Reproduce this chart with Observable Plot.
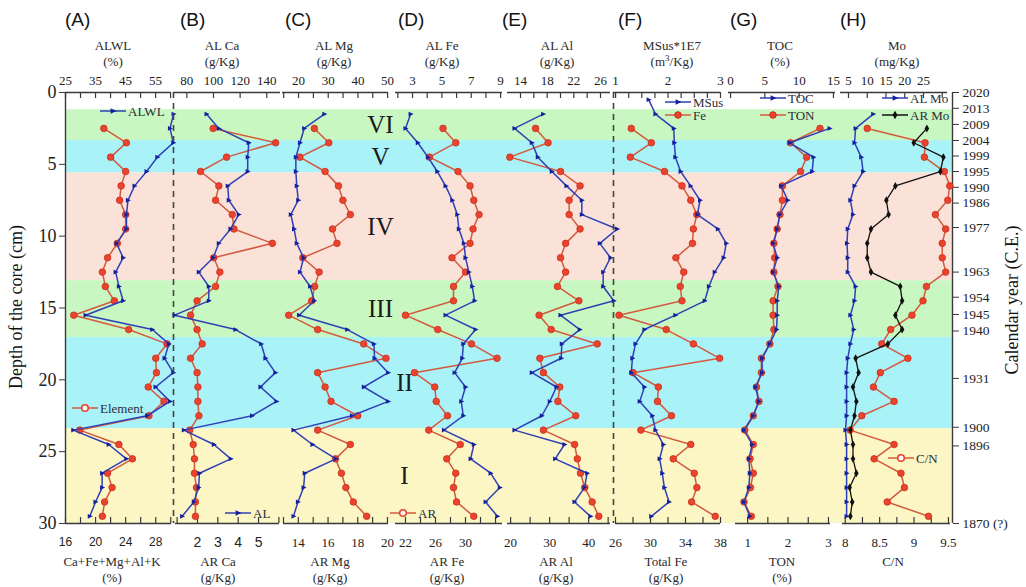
<!DOCTYPE html>
<html><head><meta charset="utf-8">
<script src="https://cdn.jsdelivr.net/npm/d3@7"></script>
<script src="https://cdn.jsdelivr.net/npm/@observablehq/plot@0.6"></script>
<style>
body{margin:0;background:#fff;}
#chart{position:relative;width:1026px;height:587px;overflow:hidden;background:#fff;}
#chart svg{position:absolute;left:0;top:0;}
.t{position:absolute;white-space:nowrap;transform:translate(-50%,-50%);color:#2a2a2a;line-height:1;}
</style></head><body><div id="chart"></div><script>
// ---------------- DATA ----------------
const depthFrom1 = [1.5,2.5,3.5,4.5,5.5,6.5,7.5,8.5,9.5,10.5,11.5,12.5,13.5,14.5,15.5,16.5,17.5,18.5,19.5,20.5,21.5,22.5,23.5,24.5,25.5,26.5,27.5,28.5,29.5];
const depthFrom2 = [2.5,3.5,4.5,5.5,6.5,7.5,8.5,9.5,10.5,11.5,12.5,13.5,14.5,15.5,16.5,17.5,18.5,19.5,20.5,21.5,22.5,23.5,24.5,25.5,26.5,27.5,28.5,29.5];
const depthFrom0 = [0.5,1.5,2.5,3.5,4.5,5.5,6.5,7.5,8.5,9.5,10.5,11.5,12.5,13.5,14.5,15.5,16.5,17.5,18.5,19.5,20.5,21.5,22.5,23.5,24.5,25.5,26.5,27.5,28.5,29.5];

const alwl    = [61.0,59.8,60.9,55.6,52.0,48.0,45.8,45.3,45.3,42.0,44.2,41.7,42.8,44.2,31.7,53.9,59.4,58.0,60.9,55.0,59.8,52.2,27.6,39.4,45.3,37.2,37.2,35.0,33.1];
const element = [21.1,24.1,22.0,24.0,23.4,23.2,24.0,24.0,22.9,21.6,20.9,21.3,22.5,17.1,24.4,29.5,28.0,28.1,27.0,29.1,27.1,17.9,23.1,24.9,21.6,22.2,21.2,20.9];
const alCa    = [94.8,104,126.5,125.7,125.7,110.7,111.5,119,112.8,104,99.8,89,96.5,96.5,70.8,116.5,135.8,139,146.5,135.3,147.3,129,77.8,100.3,113,89.5,88.8,85.3,76.5];
const arCa    = [2.77,5.84,3.43,2.15,3.05,2.89,3.71,3.79,5.68,2.8,3.1,2.89,1.98,1.66,1.98,2.23,1.66,1.98,2.02,2.02,2.07,1.62,1.79,1.85,1.85,1.95,1.9,1.9];
const alMg    = [28.7,21.9,20.5,19.1,19.1,19.4,19.9,17.4,18.5,19.4,21.7,20.5,23.9,25.3,20.2,36.4,45.4,45.6,50.2,42.0,50.2,38.0,18.3,24.7,32.6,22.1,21.7,19.8,18.3];
const arMg    = [15.08,16.05,14.1,15.8,16.7,17.0,17.5,16.3,16.6,14.3,15.4,15.1,14.9,13.35,15.3,18.4,19.9,15.3,15.8,16.2,18.0,15.3,17.5,16.5,16.9,17.2,17.7,18.6];
const alFe    = [2.87,2.52,3.36,4.05,4.69,5.25,5.71,6.05,6.16,6.5,6.61,6.84,7.07,7.23,5.25,7.3,6.46,6.39,5.87,6.61,6.32,6.46,5.14,7.18,6.96,8.32,8.95,7.98,8.78];
const arFe    = [27.0,28.7,25.2,29.0,30.6,31.1,31.8,31.0,30.6,28.2,30.0,28.4,28.4,22.0,26.3,30.8,34.2,23.2,25.9,26.1,27.6,25.1,29.3,27.5,28.7,28.4,28.8,31.1];
const alAl    = [17.4,13.1,15.7,16.6,18.7,20.9,23.2,23.2,28.5,25.9,27.5,26.4,26.4,28.0,20.0,22.9,20.2,20.1,15.7,19.4,18.4,17.2,13.1,20.6,19.2,24.0,23.6,22.1,24.5];
const arAl    = [26.4,29.6,19.8,32.8,37.8,35.0,35.0,37.8,34.1,32.8,34.1,32.0,37.5,27.3,30.4,42.2,27.5,28.4,32.6,32.1,36.7,28.4,36.4,37.1,37.9,39.0,40.9,42.6];
const msus    = [1.63,1.76,2.11,2.12,2.14,2.24,2.43,2.61,2.56,2.95,3.11,3.06,2.89,2.78,2.70,2.14,1.55,1.38,1.32,1.30,1.55,1.46,1.70,1.76,1.91,1.84,1.89,1.93,2.02,1.68];
const totalFe = [27.8,30.1,27.7,31.6,33.6,34.6,35.3,34.9,34.8,32.9,33.8,33.4,33.6,26.4,31.8,34.9,37.9,28.0,30.9,30.8,32.4,28.9,34.6,32.6,35.0,35.3,34.7,37.4];
const toc     = [14.45,8.63,12.1,11.9,7.38,8.34,7.18,6.8,6.2,6.8,6.2,7.03,6.8,6.8,6.7,5.72,4.6,4.6,3.64,4.12,3.3,1.94,3.16,2.67,2.81,2.67,1.94,2.81];
const ton     = [2.79,2.06,2.46,2.31,1.86,1.86,1.80,1.73,1.65,1.67,1.65,1.75,1.63,1.63,1.65,1.55,1.34,1.34,1.22,1.28,1.14,0.93,1.14,1.06,1.14,1.07,0.91,1.09];
const alMo    = [11.6,6.9,6.6,8.4,8.9,6.6,5.5,6.2,4.8,4.6,4.8,4.8,6.9,6.6,5.5,6.4,5.5,4.8,4.5,4.5,4.5,4.5,4.2,4.5,4.5,4.5,4.5,4.5,4.5];
const arMo    = [25.9,22.4,30.3,29.5,17.5,15.1,15.7,11.0,10.0,10.0,11.0,18.8,19.3,17.5,19.3,15.5,6.9,7.7,6.2,7.1,6.6,5.5,6.2,6.2,7.1,5.3,6.0,5.5];
const cn      = [8.32,9.16,9.15,9.44,9.52,9.49,9.31,9.46,9.41,9.41,9.46,9.18,9.13,8.97,8.66,8.53,8.91,8.51,8.41,8.71,8.24,8.07,8.71,8.42,8.81,8.86,8.61,9.21];

const zoneNames  = ["VI","V","IV","III","II","I"];
const zoneTop    = [1.2,3.35,5.6,13.1,17.05,23.4];
const zoneBottom = [3.35,5.6,13.1,17.05,23.4,30];

const depthTicks = [0,5,10,15,20,25,30];
const yearLabels = ["2020","2013","2009","2004","1999","1995","1990","1986","1977","1963","1954","1945","1940","1931","1900","1896","1870 (?)"];
const yearDepths = [0,1.1,2.22,3.34,4.42,5.5,6.6,7.7,9.4,12.5,14.25,15.45,16.6,19.9,23.3,24.6,30];

// ---------------- STYLE / LAYOUT ----------------
const W = 1026, H = 587, TOP = 92, BOTTOM = 523, LEFT = 65, RIGHT = 952;
const SERIF = "'Liberation Serif','Times New Roman',serif";
const SANS = "'Liberation Sans',Arial,sans-serif";
const AX = "#3a3a3a";
const BLUE_LINE = "#2f40b6", BLUE_DOT = "#14209c";
const RED_LINE = "#d35a3e", RED_DOT = "#ea432e", RED_EDGE = "#c9301c";
const BLACK = "#111";
const zoneFill = ["#c9f7c1","#a9f2f8","#fbe2d9","#c9f7c1","#a9f2f8","#fbf6c4"];

const triRight = {draw(ctx, size){ const r = Math.sqrt(size/Math.PI); ctx.moveTo(r*1.3,0); ctx.lineTo(-r*0.9,-r*1.05); ctx.lineTo(-r*0.9,r*1.05); ctx.closePath(); }};

const rows = (depths, values) => values.map((v,i) => ({d: depths[i], v}));
const blueSeries = (depths, values) => [
  Plot.line(rows(depths, values), {x:"v", y:"d", stroke: BLUE_LINE, strokeWidth: 1.5}),
  Plot.dot(rows(depths, values), {x:"v", y:"d", symbol: triRight, r: 2.3, fill: BLUE_DOT, stroke: "none"})
];
const redSeries = (depths, values) => [
  Plot.line(rows(depths, values), {x:"v", y:"d", stroke: RED_LINE, strokeWidth: 1.5}),
  Plot.dot(rows(depths, values), {x:"v", y:"d", r: 3.3, fill: RED_DOT, stroke: RED_EDGE, strokeWidth: 0.8})
];
const blackSeries = (depths, values) => [
  Plot.line(rows(depths, values), {x:"v", y:"d", stroke: BLACK, strokeWidth: 1.3}),
  Plot.dot(rows(depths, values), {x:"v", y:"d", symbol: "diamond", r: 2.4, fill: BLACK, stroke: "none"})
];

const panels = [
  {letterX:65, topX:113, botX:112, topTitle:["ALWL","(%)"], botTitle:["Ca+Fe+Mg+Al+K","(%)"],
   top:{x0:65,x1:171,domain:[25,60.3],ticks:[25,30,35,40,45,50,55,60],labels:[25,35,45,55]},
   bot:{x0:65,x1:171,domain:[16,30.1],ticks:[16,18,20,22,24,26,28,30],labels:[16,20,24,28],font:SANS,size:12},
   topMarks: blueSeries(depthFrom1, alwl), botMarks: redSeries(depthFrom2, element)},
  {letterX:180, topX:222, botX:218, topTitle:["AL Ca","(g/Kg)"], botTitle:["AR Ca","(g/Kg)"],
   top:{x0:173,x1:280,domain:[70,150.3],ticks:[80,100,120,140],labels:[80,100,120,140],dashed:true},
   bot:{x0:175,x1:279,domain:[0.92,6.03],ticks:[1,2,3,4,5,6],labels:[2,3,4,5],font:SANS,size:14},
   topMarks: blueSeries(depthFrom1, alCa), botMarks: redSeries(depthFrom2, arCa)},
  {letterX:285, topX:334, botX:330, topTitle:["AL Mg","(g/Kg)"], botTitle:["AR Mg","(g/Kg)"],
   top:{x0:282,x1:388,domain:[14.6,50.3],ticks:[15,20,25,30,35,40,45,50],labels:[20,30,40,50]},
   bot:{x0:283,x1:388,domain:[13,20.07],ticks:[13,14,15,16,17,18,19,20],labels:[14,16,18,20]},
   topMarks: blueSeries(depthFrom1, alMg), botMarks: redSeries(depthFrom2, arMg)},
  {letterX:398, topX:442, botX:447, topTitle:["AL Fe","(g/Kg)"], botTitle:["AR Fe","(g/Kg)"],
   top:{x0:395,x1:502,domain:[1.84,9.13],ticks:[2,3,4,5,6,7,8,9],labels:[3,5,7,9]},
   bot:{x0:395,x1:502,domain:[20.67,34.93],ticks:[22,24,26,28,30,32,34],labels:[22,26,30]},
   topMarks: blueSeries(depthFrom1, alFe), botMarks: redSeries(depthFrom2, arFe)},
  {letterX:502, topX:557, botX:556, topTitle:["AL Al","(g/Kg)"], botTitle:["AR Al","(g/Kg)"],
   top:{x0:507,x1:610,domain:[12.05,27.5],ticks:[14,16,18,20,22,24,26],labels:[14,18,22,26]},
   bot:{x0:507,x1:610,domain:[19.2,45.6],ticks:[20,25,30,35,40,45],labels:[20,30,40]},
   topMarks: blueSeries(depthFrom1, alAl), botMarks: redSeries(depthFrom2, arAl)},
  {letterX:618, topX:672, botX:666, topTitle:["MSus*1E7","(m<sup style='font-size:9px'>3</sup>/Kg)"], botTitle:["Total Fe","(g/Kg)"],
   top:{x0:613,x1:720,domain:[0.96,3],ticks:[1,1.25,1.5,1.75,2,2.25,2.5,2.75,3],labels:[1,2,3],dashed:true},
   bot:{x0:615,x1:720,domain:[26,38],ticks:[26,28,30,32,34,36,38],labels:[26,30,34,38]},
   topMarks: blueSeries(depthFrom0, msus), botMarks: redSeries(depthFrom2, totalFe)},
  {letterX:730, topX:780, botX:782, topTitle:["TOC","(%)"], botTitle:["TON","(%)"],
   top:{x0:728,x1:835,domain:[-0.3,15.3],ticks:[0,5,10,15],labels:[0,5,10,15]},
   bot:{x0:735,x1:830,domain:[0.7,3.05],ticks:[1,1.5,2,2.5,3],labels:[1,2,3]},
   topMarks: blueSeries(depthFrom2, toc), botMarks: redSeries(depthFrom2, ton)},
  {letterX:840, topX:897, botX:893, topTitle:["Mo","(mg/Kg)"], botTitle:["C/N"],
   top:{x0:840,x1:947,domain:[2.87,31.4],ticks:[5,10,15,20,25,30],labels:[5,10,15,20,25]},
   bot:{x0:842,x1:950,domain:[7.96,9.53],ticks:[8,8.25,8.5,8.75,9,9.25,9.5],labels:[8,8.5,9,9.5]},
   topMarks: [...blackSeries(depthFrom2, arMo), ...blueSeries(depthFrom1, alMo)], botMarks: redSeries(depthFrom2, cn)}
];

const chart = document.getElementById("chart");
const add = svg => { chart.appendChild(svg); };

// ---------------- BASE: bands + depth & year axes ----------------
const zoneRows = zoneNames.map((name,i) => ({name, top: zoneTop[i], bottom: zoneBottom[i], mid: (zoneTop[i]+zoneBottom[i])/2}));
const yearOf = new Map(yearDepths.map((d,i) => [d, yearLabels[i]]));
add(Plot.plot({
  width: W, height: H, marginLeft: LEFT, marginRight: W-RIGHT, marginTop: TOP, marginBottom: H-BOTTOM,
  x: {domain:[0,1], axis:null},
  y: {domain:[0,30], reverse:true, axis:null},
  color: {type:"identity"},
  style: {background:"white", color:"#222", fontFamily: SERIF, overflow:"visible"},
  marks: [
    Plot.rect(zoneRows, {y1:"top", y2:"bottom", fill:(d,i) => zoneFill[i]}),
    Plot.ruleX([0], {stroke: AX, strokeWidth: 1.4}),
    Plot.ruleX([1], {stroke: AX, strokeWidth: 1.4}),
    Plot.axisY(depthTicks, {anchor:"left", tickSize:6, tickPadding:3, fontSize:18, fontFamily:SERIF, label:null, tickFormat:d => String(d), stroke: AX}),
    Plot.axisY(yearDepths, {anchor:"right", tickSize:6, tickPadding:4, fontSize:13.5, fontFamily:SERIF, label:null, tickFormat:d => yearOf.get(d), stroke: AX}),
    Plot.text(zoneRows.slice(0,4), {y:"mid", text:"name", frameAnchor:"left", textAnchor:"middle", dx:315, fontSize:25, fontFamily:SERIF, fill:"#1a1a1a"}),
    Plot.text(zoneRows.slice(4), {y:"mid", text:"name", frameAnchor:"left", textAnchor:"middle", dx:339, fontSize:25, fontFamily:SERIF, fill:"#1a1a1a"})
  ]
}));

// ---------------- PANELS ----------------
function layer(cfg, anchor, marks) {
  const fh = BOTTOM - TOP;
  const font = cfg.font || SERIF, size = cfg.size || 13;
  const axisMarks = anchor === "top" ? [
    Plot.ruleY([0], {stroke: AX, strokeWidth: 1.4}),
    Plot.tickX(cfg.ticks, {x: d => d, insetBottom: fh - 6, stroke: AX, strokeWidth: 1.2}),
    Plot.axisX(cfg.labels, {anchor:"top", tickSize:0, tickPadding:8, fontSize:size, fontFamily:font, label:null, tickFormat:d => String(d)})
  ] : [
    Plot.ruleY([30], {stroke: AX, strokeWidth: 1.4}),
    Plot.tickX(cfg.ticks, {x: d => d, insetTop: fh - 6, stroke: AX, strokeWidth: 1.2}),
    Plot.axisX(cfg.labels, {anchor:"bottom", tickSize:0, tickPadding:14, fontSize:size, fontFamily:font, label:null, tickFormat:d => String(d)})
  ];
  const extra = cfg.dashed ? [Plot.ruleX([cfg.domain[0]], {stroke:"#444", strokeWidth:1.6, strokeDasharray:"6,5"})] : [];
  return Plot.plot({
    width: W, height: H, marginLeft: cfg.x0, marginRight: W - cfg.x1, marginTop: TOP, marginBottom: H - BOTTOM,
    x: {domain: cfg.domain, axis: null},
    y: {domain: [0,30], reverse: true, axis: null},
    style: {background:"transparent", color:"#222", overflow:"visible"},
    marks: [...extra, ...axisMarks, ...marks]
  });
}
for (const p of panels) {
  add(layer(p.bot, "bottom", p.botMarks));
  add(layer(p.top, "top", p.topMarks));
}

// ---------------- LEGENDS ----------------
const legendItems = [
  {label:"ALWL", kind:"blue", x:100, y:111},
  {label:"Element", kind:"redOpen", x:72, y:408},
  {label:"AL", kind:"blue", x:225, y:513},
  {label:"AR", kind:"redOpen", x:390, y:513},
  {label:"MSus", kind:"blue", x:665, y:102},
  {label:"Fe", kind:"red", x:665, y:115},
  {label:"TOC", kind:"blue", x:760, y:98},
  {label:"TON", kind:"red", x:760, y:115},
  {label:"AL Mo", kind:"blue", x:882, y:98},
  {label:"AR Mo", kind:"black", x:882, y:115},
  {label:"C/N", kind:"redOpen", x:888, y:458}
];
const leg = d3.select(chart).append("svg").attr("width", W).attr("height", H);
for (const it of legendItems) {
  const g = leg.append("g");
  const col = it.kind === "blue" ? BLUE_LINE : it.kind === "black" ? BLACK : RED_LINE;
  g.append("line").attr("x1", it.x).attr("x2", it.x + 26).attr("y1", it.y).attr("y2", it.y).attr("stroke", col).attr("stroke-width", 1.5);
  const cx = it.x + 13;
  if (it.kind === "blue") g.append("path").attr("d", `M${cx+3.5},${it.y}L${cx-2.4},${it.y-2.8}L${cx-2.4},${it.y+2.8}Z`).attr("fill", BLUE_DOT);
  else if (it.kind === "black") g.append("path").attr("d", d3.symbol(d3.symbolDiamond, 22)()).attr("transform", `translate(${cx},${it.y})`).attr("fill", BLACK);
  else if (it.kind === "red") g.append("circle").attr("cx", cx).attr("cy", it.y).attr("r", 3.3).attr("fill", RED_DOT).attr("stroke", RED_EDGE);
  else g.append("circle").attr("cx", cx).attr("cy", it.y).attr("r", 3.3).attr("fill", "white").attr("stroke", RED_DOT).attr("stroke-width", 1.6);
  g.append("text").attr("x", it.x + 28).attr("y", it.y).attr("dy", "0.35em").attr("font-family", SERIF).attr("font-size", 13).attr("fill", "#2b2d3a").text(it.label);
}

// ---------------- TITLES ----------------
function txt(html, x, y, size, family, extra) {
  const d = document.createElement("div");
  d.className = "t"; d.innerHTML = html;
  d.style.left = x + "px"; d.style.top = y + "px"; d.style.fontSize = size + "px"; d.style.fontFamily = family;
  if (extra) Object.assign(d.style, extra);
  chart.appendChild(d);
}
const letters = ["(A)","(B)","(C)","(D)","(E)","(F)","(G)","(H)"];
panels.forEach((p, i) => {
  txt(letters[i], p.letterX, 19, 19, SANS, {transform:"translate(0,-50%)", color:"#111"});
  p.topTitle.forEach((s, j) => txt(s, p.topX, 45 + j*16, 13, SERIF));
  p.botTitle.forEach((s, j) => txt(s, p.botX, 561 + j*16, 13, SERIF));
});
txt("Depth of the core (cm)", 16, 307, 18, SERIF, {transform:"translate(-50%,-50%) rotate(-90deg)", color:"#111"});
txt("Calendar year (C.E.)", 1012, 300, 18, SERIF, {transform:"translate(-50%,-50%) rotate(-90deg)", color:"#111"});
</script></body></html>
